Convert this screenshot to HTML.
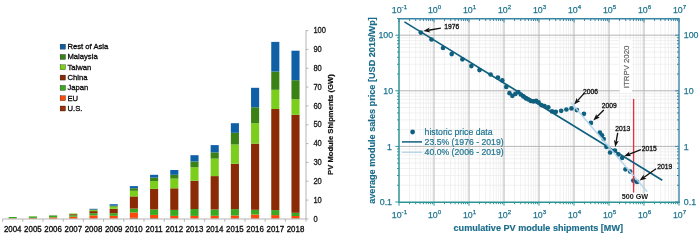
<!DOCTYPE html><html><head><meta charset="utf-8"><title>PV charts</title>
<style>html,body{margin:0;padding:0;background:#fff}svg{display:block}text{font-family:"Liberation Sans",Arial,sans-serif}</style></head><body>
<svg width="700" height="240" viewBox="0 0 700 240">
<rect width="700" height="240" fill="#fff"/>
<g shape-rendering="auto">
<rect x="8.65" y="218.30" width="8.1" height="0.40" fill="#fb4a0c"/>
<rect x="8.65" y="217.00" width="8.1" height="1.30" fill="#3aa81f"/>
<rect x="28.85" y="217.90" width="8.1" height="0.80" fill="#fb4a0c"/>
<rect x="28.85" y="216.40" width="8.1" height="1.50" fill="#3aa81f"/>
<rect x="49.05" y="217.40" width="8.1" height="1.30" fill="#fb4a0c"/>
<rect x="49.05" y="215.90" width="8.1" height="1.50" fill="#3aa81f"/>
<rect x="49.05" y="215.40" width="8.1" height="0.50" fill="#3a8216"/>
<rect x="69.25" y="216.70" width="8.1" height="2.00" fill="#fb4a0c"/>
<rect x="69.25" y="215.20" width="8.1" height="1.50" fill="#3aa81f"/>
<rect x="69.25" y="214.20" width="8.1" height="1.00" fill="#8a2b05"/>
<rect x="69.25" y="213.50" width="8.1" height="0.70" fill="#7bce1b"/>
<rect x="89.45" y="218.30" width="8.1" height="0.40" fill="#9c2f08"/>
<rect x="89.45" y="215.40" width="8.1" height="2.90" fill="#fb4a0c"/>
<rect x="89.45" y="213.20" width="8.1" height="2.20" fill="#3aa81f"/>
<rect x="89.45" y="211.10" width="8.1" height="2.10" fill="#8a2b05"/>
<rect x="89.45" y="209.90" width="8.1" height="1.20" fill="#7bce1b"/>
<rect x="89.45" y="209.70" width="8.1" height="0.20" fill="#3a8216"/>
<rect x="89.45" y="208.80" width="8.1" height="0.90" fill="#1060a6"/>
<rect x="109.65" y="218.40" width="8.1" height="0.30" fill="#9c2f08"/>
<rect x="109.65" y="215.80" width="8.1" height="2.60" fill="#fb4a0c"/>
<rect x="109.65" y="213.20" width="8.1" height="2.60" fill="#3aa81f"/>
<rect x="109.65" y="208.80" width="8.1" height="4.40" fill="#8a2b05"/>
<rect x="109.65" y="206.60" width="8.1" height="2.20" fill="#7bce1b"/>
<rect x="109.65" y="205.70" width="8.1" height="0.90" fill="#3a8216"/>
<rect x="109.65" y="204.20" width="8.1" height="1.50" fill="#1060a6"/>
<rect x="129.85" y="217.80" width="8.1" height="0.90" fill="#9c2f08"/>
<rect x="129.85" y="212.50" width="8.1" height="5.30" fill="#fb4a0c"/>
<rect x="129.85" y="208.60" width="8.1" height="3.90" fill="#3aa81f"/>
<rect x="129.85" y="196.40" width="8.1" height="12.20" fill="#8a2b05"/>
<rect x="129.85" y="190.80" width="8.1" height="5.60" fill="#7bce1b"/>
<rect x="129.85" y="188.30" width="8.1" height="2.50" fill="#3a8216"/>
<rect x="129.85" y="186.10" width="8.1" height="2.20" fill="#1060a6"/>
<rect x="150.05" y="218.00" width="8.1" height="0.70" fill="#9c2f08"/>
<rect x="150.05" y="214.90" width="8.1" height="3.10" fill="#fb4a0c"/>
<rect x="150.05" y="209.40" width="8.1" height="5.50" fill="#3aa81f"/>
<rect x="150.05" y="188.90" width="8.1" height="20.50" fill="#8a2b05"/>
<rect x="150.05" y="181.10" width="8.1" height="7.80" fill="#7bce1b"/>
<rect x="150.05" y="177.60" width="8.1" height="3.50" fill="#3a8216"/>
<rect x="150.05" y="174.80" width="8.1" height="2.80" fill="#1060a6"/>
<rect x="170.25" y="218.30" width="8.1" height="0.40" fill="#9c2f08"/>
<rect x="170.25" y="215.90" width="8.1" height="2.40" fill="#fb4a0c"/>
<rect x="170.25" y="209.90" width="8.1" height="6.00" fill="#3aa81f"/>
<rect x="170.25" y="188.30" width="8.1" height="21.60" fill="#8a2b05"/>
<rect x="170.25" y="178.60" width="8.1" height="9.70" fill="#7bce1b"/>
<rect x="170.25" y="174.80" width="8.1" height="3.80" fill="#3a8216"/>
<rect x="170.25" y="170.00" width="8.1" height="4.80" fill="#1060a6"/>
<rect x="190.45" y="218.30" width="8.1" height="0.40" fill="#9c2f08"/>
<rect x="190.45" y="215.90" width="8.1" height="2.40" fill="#fb4a0c"/>
<rect x="190.45" y="209.00" width="8.1" height="6.90" fill="#3aa81f"/>
<rect x="190.45" y="180.80" width="8.1" height="28.20" fill="#8a2b05"/>
<rect x="190.45" y="167.30" width="8.1" height="13.50" fill="#7bce1b"/>
<rect x="190.45" y="161.50" width="8.1" height="5.80" fill="#3a8216"/>
<rect x="190.45" y="155.20" width="8.1" height="6.30" fill="#1060a6"/>
<rect x="210.65" y="218.30" width="8.1" height="0.40" fill="#9c2f08"/>
<rect x="210.65" y="215.80" width="8.1" height="2.50" fill="#fb4a0c"/>
<rect x="210.65" y="209.50" width="8.1" height="6.30" fill="#3aa81f"/>
<rect x="210.65" y="176.10" width="8.1" height="33.40" fill="#8a2b05"/>
<rect x="210.65" y="158.60" width="8.1" height="17.50" fill="#7bce1b"/>
<rect x="210.65" y="152.40" width="8.1" height="6.20" fill="#3a8216"/>
<rect x="210.65" y="145.10" width="8.1" height="7.30" fill="#1060a6"/>
<rect x="230.85" y="218.20" width="8.1" height="0.50" fill="#9c2f08"/>
<rect x="230.85" y="215.50" width="8.1" height="2.70" fill="#fb4a0c"/>
<rect x="230.85" y="209.10" width="8.1" height="6.40" fill="#3aa81f"/>
<rect x="230.85" y="163.80" width="8.1" height="45.30" fill="#8a2b05"/>
<rect x="230.85" y="144.50" width="8.1" height="19.30" fill="#7bce1b"/>
<rect x="230.85" y="132.80" width="8.1" height="11.70" fill="#3a8216"/>
<rect x="230.85" y="123.20" width="8.1" height="9.60" fill="#1060a6"/>
<rect x="251.05" y="218.20" width="8.1" height="0.50" fill="#9c2f08"/>
<rect x="251.05" y="214.50" width="8.1" height="3.70" fill="#fb4a0c"/>
<rect x="251.05" y="209.80" width="8.1" height="4.70" fill="#3aa81f"/>
<rect x="251.05" y="143.60" width="8.1" height="66.20" fill="#8a2b05"/>
<rect x="251.05" y="123.20" width="8.1" height="20.40" fill="#7bce1b"/>
<rect x="251.05" y="107.30" width="8.1" height="15.90" fill="#3a8216"/>
<rect x="251.05" y="87.80" width="8.1" height="19.50" fill="#1060a6"/>
<rect x="271.25" y="218.30" width="8.1" height="0.40" fill="#9c2f08"/>
<rect x="271.25" y="215.10" width="8.1" height="3.20" fill="#fb4a0c"/>
<rect x="271.25" y="210.10" width="8.1" height="5.00" fill="#3aa81f"/>
<rect x="271.25" y="109.00" width="8.1" height="101.10" fill="#8a2b05"/>
<rect x="271.25" y="89.80" width="8.1" height="19.20" fill="#7bce1b"/>
<rect x="271.25" y="71.60" width="8.1" height="18.20" fill="#3a8216"/>
<rect x="271.25" y="41.90" width="8.1" height="29.70" fill="#1060a6"/>
<rect x="291.45" y="218.30" width="8.1" height="0.40" fill="#9c2f08"/>
<rect x="291.45" y="216.00" width="8.1" height="2.30" fill="#fb4a0c"/>
<rect x="291.45" y="212.80" width="8.1" height="3.20" fill="#3aa81f"/>
<rect x="291.45" y="114.80" width="8.1" height="98.00" fill="#8a2b05"/>
<rect x="291.45" y="99.20" width="8.1" height="15.60" fill="#7bce1b"/>
<rect x="291.45" y="80.20" width="8.1" height="19.00" fill="#3a8216"/>
<rect x="291.45" y="50.70" width="8.1" height="29.50" fill="#1060a6"/>
</g>
<g stroke="#adadad" stroke-width="0.9" fill="none">
<path d="M2.5 219H306"/>
<path d="M306 30.4V221.6"/>
<path d="M2.6 219V221.8"/>
<path d="M22.8 219V221.8"/>
<path d="M43.0 219V221.8"/>
<path d="M63.2 219V221.8"/>
<path d="M83.4 219V221.8"/>
<path d="M103.6 219V221.8"/>
<path d="M123.8 219V221.8"/>
<path d="M144.0 219V221.8"/>
<path d="M164.2 219V221.8"/>
<path d="M184.4 219V221.8"/>
<path d="M204.6 219V221.8"/>
<path d="M224.8 219V221.8"/>
<path d="M245.0 219V221.8"/>
<path d="M265.2 219V221.8"/>
<path d="M285.4 219V221.8"/>
<path d="M306 218.90H308.4"/>
<path d="M306 200.07H308.4"/>
<path d="M306 181.24H308.4"/>
<path d="M306 162.41H308.4"/>
<path d="M306 143.58H308.4"/>
<path d="M306 124.75H308.4"/>
<path d="M306 105.92H308.4"/>
<path d="M306 87.09H308.4"/>
<path d="M306 68.26H308.4"/>
<path d="M306 49.43H308.4"/>
<path d="M306 30.60H308.4"/>
</g>
<g font-size="8.2" fill="#141414" stroke="#141414" stroke-width="0.28" text-anchor="start">
<text transform="translate(313.4 221.60) scale(0.92 1.08)">0</text>
<text transform="translate(313.4 202.77) scale(0.92 1.08)">10</text>
<text transform="translate(313.4 183.94) scale(0.92 1.08)">20</text>
<text transform="translate(313.4 165.11) scale(0.92 1.08)">30</text>
<text transform="translate(313.4 146.28) scale(0.92 1.08)">40</text>
<text transform="translate(313.4 127.45) scale(0.92 1.08)">50</text>
<text transform="translate(313.4 108.62) scale(0.92 1.08)">60</text>
<text transform="translate(313.4 89.79) scale(0.92 1.08)">70</text>
<text transform="translate(313.4 70.96) scale(0.92 1.08)">80</text>
<text transform="translate(313.4 52.13) scale(0.92 1.08)">90</text>
<text transform="translate(313.4 33.30) scale(0.92 1.08)">100</text>
</g>
<g font-size="7.9" fill="#0c0c0c" stroke="#0c0c0c" stroke-width="0.3" text-anchor="middle">
<text transform="translate(12.70 232.25) scale(1 1.1)">2004</text>
<text transform="translate(32.90 232.25) scale(1 1.1)">2005</text>
<text transform="translate(53.10 232.25) scale(1 1.1)">2006</text>
<text transform="translate(73.30 232.25) scale(1 1.1)">2007</text>
<text transform="translate(93.50 232.25) scale(1 1.1)">2008</text>
<text transform="translate(113.70 232.25) scale(1 1.1)">2009</text>
<text transform="translate(133.90 232.25) scale(1 1.1)">2010</text>
<text transform="translate(154.10 232.25) scale(1 1.1)">2011</text>
<text transform="translate(174.30 232.25) scale(1 1.1)">2012</text>
<text transform="translate(194.50 232.25) scale(1 1.1)">2013</text>
<text transform="translate(214.70 232.25) scale(1 1.1)">2014</text>
<text transform="translate(234.90 232.25) scale(1 1.1)">2015</text>
<text transform="translate(255.10 232.25) scale(1 1.1)">2016</text>
<text transform="translate(275.30 232.25) scale(1 1.1)">2017</text>
<text transform="translate(295.50 232.25) scale(1 1.1)">2018</text>
</g>
<text transform="translate(333.4 124.6) rotate(-90)" font-size="7.65" font-weight="bold" fill="#111" stroke="#111" stroke-width="0.2" text-anchor="middle">PV Module Shipments (GW)</text>
<g font-size="7.65" fill="#0c0c0c" stroke="#0c0c0c" stroke-width="0.3">
<rect x="60.1" y="44.15" width="5.4" height="5" fill="#1060a6"/>
<text transform="translate(67.5 48.95) scale(1 1.05)">Rest of Asia</text>
<rect x="60.1" y="54.46" width="5.4" height="5" fill="#3a8216"/>
<text transform="translate(67.5 59.26) scale(1 1.05)">Malaysia</text>
<rect x="60.1" y="64.77" width="5.4" height="5" fill="#7bce1b"/>
<text transform="translate(67.5 69.57) scale(1 1.05)">Taiwan</text>
<rect x="60.1" y="75.08" width="5.4" height="5" fill="#8a2b05"/>
<text transform="translate(67.5 79.88) scale(1 1.05)">China</text>
<rect x="60.1" y="85.39" width="5.4" height="5" fill="#3aa81f"/>
<text transform="translate(67.5 90.19) scale(1 1.05)">Japan</text>
<rect x="60.1" y="95.70" width="5.4" height="5" fill="#fb4a0c"/>
<text transform="translate(67.5 100.50) scale(1 1.05)">EU</text>
<rect x="60.1" y="106.01" width="5.4" height="5" fill="#9c2f08"/>
<text transform="translate(67.5 110.81) scale(1 1.05)">U.S.</text>
</g>
<g fill="none">
<path d="M409.54 18.8V202.3M415.70 18.8V202.3M420.07 18.8V202.3M423.46 18.8V202.3M426.24 18.8V202.3M428.58 18.8V202.3M430.61 18.8V202.3M432.40 18.8V202.3M444.54 18.8V202.3M450.70 18.8V202.3M455.07 18.8V202.3M458.46 18.8V202.3M461.24 18.8V202.3M463.58 18.8V202.3M465.61 18.8V202.3M467.40 18.8V202.3M479.54 18.8V202.3M485.70 18.8V202.3M490.07 18.8V202.3M493.46 18.8V202.3M496.24 18.8V202.3M498.58 18.8V202.3M500.61 18.8V202.3M502.40 18.8V202.3M514.54 18.8V202.3M520.70 18.8V202.3M525.07 18.8V202.3M528.46 18.8V202.3M531.24 18.8V202.3M533.58 18.8V202.3M535.61 18.8V202.3M537.40 18.8V202.3M549.54 18.8V202.3M555.70 18.8V202.3M560.07 18.8V202.3M563.46 18.8V202.3M566.24 18.8V202.3M568.58 18.8V202.3M570.61 18.8V202.3M572.40 18.8V202.3M584.54 18.8V202.3M590.70 18.8V202.3M595.07 18.8V202.3M598.46 18.8V202.3M601.24 18.8V202.3M603.58 18.8V202.3M605.61 18.8V202.3M607.40 18.8V202.3M619.54 18.8V202.3M625.70 18.8V202.3M630.07 18.8V202.3M633.46 18.8V202.3M636.24 18.8V202.3M638.58 18.8V202.3M640.61 18.8V202.3M642.40 18.8V202.3M654.54 18.8V202.3M660.70 18.8V202.3M665.07 18.8V202.3M668.46 18.8V202.3M671.24 18.8V202.3M673.58 18.8V202.3M675.61 18.8V202.3M677.40 18.8V202.3M399.0 185.26H679.0M399.0 175.47H679.0M399.0 168.53H679.0M399.0 163.14H679.0M399.0 158.73H679.0M399.0 155.01H679.0M399.0 151.79H679.0M399.0 148.94H679.0M399.0 129.66H679.0M399.0 119.87H679.0M399.0 112.93H679.0M399.0 107.54H679.0M399.0 103.13H679.0M399.0 99.41H679.0M399.0 96.19H679.0M399.0 93.34H679.0M399.0 74.06H679.0M399.0 64.27H679.0M399.0 57.33H679.0M399.0 51.94H679.0M399.0 47.53H679.0M399.0 43.81H679.0M399.0 40.59H679.0M399.0 37.74H679.0M399.0 18.46H679.0" stroke="#e7e7e7" stroke-width="0.6"/>
<path d="M434.00 18.8V202.3M469.00 18.8V202.3M504.00 18.8V202.3M539.00 18.8V202.3M574.00 18.8V202.3M609.00 18.8V202.3M644.00 18.8V202.3M399.0 146.40H679.0M399.0 90.80H679.0M399.0 35.20H679.0" stroke="#b6b6b6" stroke-width="1"/>
</g>
<rect x="619.6" y="40" width="12.5" height="52.6" fill="#fff"/>
<text transform="translate(628.7 66.9) rotate(-90)" font-size="7.8" fill="#606060" stroke="#606060" stroke-width="0.2" text-anchor="middle">ITRPV 2020</text>
<path d="M633.6 98.9V192.5" stroke="#e82c44" stroke-width="1.35" fill="none"/>
<path d="M404.4 21.9L662.3 180.25" stroke="#0f5f7e" stroke-width="1.6" fill="none"/>
<g fill="#0f5f7e">
<circle cx="420.8" cy="32.6" r="2.35"/>
<circle cx="431.5" cy="39.5" r="2.35"/>
<circle cx="443" cy="48" r="2.35"/>
<circle cx="451.7" cy="54.1" r="2.35"/>
<circle cx="462.4" cy="59.3" r="2.35"/>
<circle cx="471.4" cy="66.1" r="2.35"/>
<circle cx="479.5" cy="70.1" r="2.35"/>
<circle cx="490.6" cy="74.5" r="2.35"/>
<circle cx="497.9" cy="77.6" r="2.35"/>
<circle cx="502.3" cy="80.4" r="2.35"/>
<circle cx="506.3" cy="86.9" r="2.35"/>
<circle cx="509.5" cy="93.2" r="2.35"/>
<circle cx="512.4" cy="95.8" r="2.35"/>
<circle cx="515.4" cy="93.9" r="2.35"/>
<circle cx="518.3" cy="92" r="2.35"/>
<circle cx="520.8" cy="94.5" r="2.35"/>
<circle cx="523.3" cy="96.4" r="2.35"/>
<circle cx="525.8" cy="98.3" r="2.35"/>
<circle cx="528.3" cy="99.5" r="2.35"/>
<circle cx="530.8" cy="100.9" r="2.35"/>
<circle cx="533.5" cy="101.4" r="2.35"/>
<circle cx="536.1" cy="100.8" r="2.35"/>
<circle cx="538.6" cy="102.3" r="2.35"/>
<circle cx="541.4" cy="105.1" r="2.35"/>
<circle cx="544.5" cy="106.1" r="2.35"/>
<circle cx="548.3" cy="107.4" r="2.35"/>
<circle cx="552" cy="111.4" r="2.35"/>
<circle cx="555.8" cy="111.8" r="2.35"/>
<circle cx="561.2" cy="110.8" r="2.35"/>
<circle cx="566.4" cy="109.5" r="2.35"/>
<circle cx="571.5" cy="108.4" r="2.35"/>
<circle cx="576.9" cy="110.1" r="2.35"/>
<circle cx="583.9" cy="113.8" r="2.35"/>
<circle cx="590.9" cy="122.9" r="2.35"/>
<circle cx="599.9" cy="132.6" r="2.35"/>
<circle cx="602" cy="135.3" r="2.35"/>
<circle cx="603.7" cy="139.1" r="2.35"/>
<circle cx="606.4" cy="146.8" r="2.35"/>
<circle cx="610.1" cy="152.5" r="2.35"/>
<circle cx="614.9" cy="150.6" r="2.35"/>
<circle cx="618.3" cy="154.4" r="2.35"/>
<circle cx="622.1" cy="158" r="2.35"/>
<circle cx="625.5" cy="169.3" r="2.35"/>
<circle cx="630.2" cy="171.6" r="2.35"/>
<circle cx="633.3" cy="180.6" r="2.35"/>
<circle cx="637.1" cy="181.9" r="2.35"/>
</g>
<path d="M570.9 102.4L647.2 191.73" stroke="#b2d6ec" stroke-width="1.6" fill="none" opacity="0.92"/>
<path d="M633.6 176V186" stroke="#e82c44" stroke-width="1.35" fill="none"/>
<path d="M399.0 18.1V202.3H679.7" fill="none" stroke="#2c9496" stroke-width="1.5"/>
<path d="M398.25 18.8H679.0V203.05" fill="none" stroke="#3a86a6" stroke-width="1.4"/>
<path d="M399.00 18.8v3.6M409.54 18.8v2.2M415.70 18.8v2.2M420.07 18.8v2.2M423.46 18.8v2.2M426.24 18.8v2.2M428.58 18.8v2.2M430.61 18.8v2.2M432.40 18.8v2.2M434.00 18.8v3.6M444.54 18.8v2.2M450.70 18.8v2.2M455.07 18.8v2.2M458.46 18.8v2.2M461.24 18.8v2.2M463.58 18.8v2.2M465.61 18.8v2.2M467.40 18.8v2.2M469.00 18.8v3.6M479.54 18.8v2.2M485.70 18.8v2.2M490.07 18.8v2.2M493.46 18.8v2.2M496.24 18.8v2.2M498.58 18.8v2.2M500.61 18.8v2.2M502.40 18.8v2.2M504.00 18.8v3.6M514.54 18.8v2.2M520.70 18.8v2.2M525.07 18.8v2.2M528.46 18.8v2.2M531.24 18.8v2.2M533.58 18.8v2.2M535.61 18.8v2.2M537.40 18.8v2.2M539.00 18.8v3.6M549.54 18.8v2.2M555.70 18.8v2.2M560.07 18.8v2.2M563.46 18.8v2.2M566.24 18.8v2.2M568.58 18.8v2.2M570.61 18.8v2.2M572.40 18.8v2.2M574.00 18.8v3.6M584.54 18.8v2.2M590.70 18.8v2.2M595.07 18.8v2.2M598.46 18.8v2.2M601.24 18.8v2.2M603.58 18.8v2.2M605.61 18.8v2.2M607.40 18.8v2.2M609.00 18.8v3.6M619.54 18.8v2.2M625.70 18.8v2.2M630.07 18.8v2.2M633.46 18.8v2.2M636.24 18.8v2.2M638.58 18.8v2.2M640.61 18.8v2.2M642.40 18.8v2.2M644.00 18.8v3.6M654.54 18.8v2.2M660.70 18.8v2.2M665.07 18.8v2.2M668.46 18.8v2.2M671.24 18.8v2.2M673.58 18.8v2.2M675.61 18.8v2.2M677.40 18.8v2.2M679.00 18.8v3.6M679.0 202.00h-3.8M679.0 185.26h-2.0M679.0 175.47h-2.0M679.0 168.53h-2.0M679.0 163.14h-2.0M679.0 158.73h-2.0M679.0 155.01h-2.0M679.0 151.79h-2.0M679.0 148.94h-2.0M679.0 146.40h-3.8M679.0 129.66h-2.0M679.0 119.87h-2.0M679.0 112.93h-2.0M679.0 107.54h-2.0M679.0 103.13h-2.0M679.0 99.41h-2.0M679.0 96.19h-2.0M679.0 93.34h-2.0M679.0 90.80h-3.8M679.0 74.06h-2.0M679.0 64.27h-2.0M679.0 57.33h-2.0M679.0 51.94h-2.0M679.0 47.53h-2.0M679.0 43.81h-2.0M679.0 40.59h-2.0M679.0 37.74h-2.0M679.0 35.20h-3.8M679.0 18.46h-2.0" stroke="#3a86a6" stroke-width="1" fill="none"/>
<path d="M399.00 202.3v3.4M409.54 202.3v1.9M415.70 202.3v1.9M420.07 202.3v1.9M423.46 202.3v1.9M426.24 202.3v1.9M428.58 202.3v1.9M430.61 202.3v1.9M432.40 202.3v1.9M434.00 202.3v3.4M444.54 202.3v1.9M450.70 202.3v1.9M455.07 202.3v1.9M458.46 202.3v1.9M461.24 202.3v1.9M463.58 202.3v1.9M465.61 202.3v1.9M467.40 202.3v1.9M469.00 202.3v3.4M479.54 202.3v1.9M485.70 202.3v1.9M490.07 202.3v1.9M493.46 202.3v1.9M496.24 202.3v1.9M498.58 202.3v1.9M500.61 202.3v1.9M502.40 202.3v1.9M504.00 202.3v3.4M514.54 202.3v1.9M520.70 202.3v1.9M525.07 202.3v1.9M528.46 202.3v1.9M531.24 202.3v1.9M533.58 202.3v1.9M535.61 202.3v1.9M537.40 202.3v1.9M539.00 202.3v3.4M549.54 202.3v1.9M555.70 202.3v1.9M560.07 202.3v1.9M563.46 202.3v1.9M566.24 202.3v1.9M568.58 202.3v1.9M570.61 202.3v1.9M572.40 202.3v1.9M574.00 202.3v3.4M584.54 202.3v1.9M590.70 202.3v1.9M595.07 202.3v1.9M598.46 202.3v1.9M601.24 202.3v1.9M603.58 202.3v1.9M605.61 202.3v1.9M607.40 202.3v1.9M609.00 202.3v3.4M619.54 202.3v1.9M625.70 202.3v1.9M630.07 202.3v1.9M633.46 202.3v1.9M636.24 202.3v1.9M638.58 202.3v1.9M640.61 202.3v1.9M642.40 202.3v1.9M644.00 202.3v3.4M654.54 202.3v1.9M660.70 202.3v1.9M665.07 202.3v1.9M668.46 202.3v1.9M671.24 202.3v1.9M673.58 202.3v1.9M675.61 202.3v1.9M677.40 202.3v1.9M679.00 202.3v3.4M399.0 202.00h-3.6M399.0 185.26h-1.9M399.0 175.47h-1.9M399.0 168.53h-1.9M399.0 163.14h-1.9M399.0 158.73h-1.9M399.0 155.01h-1.9M399.0 151.79h-1.9M399.0 148.94h-1.9M399.0 146.40h-3.6M399.0 129.66h-1.9M399.0 119.87h-1.9M399.0 112.93h-1.9M399.0 107.54h-1.9M399.0 103.13h-1.9M399.0 99.41h-1.9M399.0 96.19h-1.9M399.0 93.34h-1.9M399.0 90.80h-3.6M399.0 74.06h-1.9M399.0 64.27h-1.9M399.0 57.33h-1.9M399.0 51.94h-1.9M399.0 47.53h-1.9M399.0 43.81h-1.9M399.0 40.59h-1.9M399.0 37.74h-1.9M399.0 35.20h-3.6M399.0 18.46h-1.9" stroke="#2c9496" stroke-width="1" fill="none"/>
<g font-size="8.8" fill="#1f7591" stroke="#1f7591" stroke-width="0.25">
<text x="391.80" y="12.6">10<tspan font-size="6.2" dy="-3.8">-1</tspan></text>
<text x="391.80" y="217.6">10<tspan font-size="6.2" dy="-3.8">-1</tspan></text>
<text x="427.90" y="12.6">10<tspan font-size="6.2" dy="-3.8">0</tspan></text>
<text x="427.90" y="217.6">10<tspan font-size="6.2" dy="-3.8">0</tspan></text>
<text x="462.90" y="12.6">10<tspan font-size="6.2" dy="-3.8">1</tspan></text>
<text x="462.90" y="217.6">10<tspan font-size="6.2" dy="-3.8">1</tspan></text>
<text x="497.90" y="12.6">10<tspan font-size="6.2" dy="-3.8">2</tspan></text>
<text x="497.90" y="217.6">10<tspan font-size="6.2" dy="-3.8">2</tspan></text>
<text x="532.90" y="12.6">10<tspan font-size="6.2" dy="-3.8">3</tspan></text>
<text x="532.90" y="217.6">10<tspan font-size="6.2" dy="-3.8">3</tspan></text>
<text x="567.90" y="12.6">10<tspan font-size="6.2" dy="-3.8">4</tspan></text>
<text x="567.90" y="217.6">10<tspan font-size="6.2" dy="-3.8">4</tspan></text>
<text x="602.90" y="12.6">10<tspan font-size="6.2" dy="-3.8">5</tspan></text>
<text x="602.90" y="217.6">10<tspan font-size="6.2" dy="-3.8">5</tspan></text>
<text x="637.90" y="12.6">10<tspan font-size="6.2" dy="-3.8">6</tspan></text>
<text x="637.90" y="217.6">10<tspan font-size="6.2" dy="-3.8">6</tspan></text>
<text x="672.90" y="12.6">10<tspan font-size="6.2" dy="-3.8">7</tspan></text>
<text x="672.90" y="217.6">10<tspan font-size="6.2" dy="-3.8">7</tspan></text>
<text x="393.1" y="38.30" text-anchor="end">100</text>
<text x="683.8" y="38.30">100</text>
<text x="393.1" y="93.90" text-anchor="end">10</text>
<text x="683.8" y="93.90">10</text>
<text x="392.0" y="149.50" text-anchor="end">1</text>
<text x="683.8" y="149.50">1</text>
<text x="392.0" y="205.10" text-anchor="end">0.1</text>
<text x="683.8" y="205.10">0.1</text>
</g>
<text transform="translate(375 110.5) rotate(-90)" font-size="9.15" font-weight="bold" fill="#1a6c8a" stroke="#1a6c8a" stroke-width="0.15" text-anchor="middle">average module sales price [USD 2019/Wp]</text>
<text x="538.3" y="231.2" font-size="9.08" font-weight="bold" fill="#1a6c8a" stroke="#1a6c8a" stroke-width="0.15" text-anchor="middle">cumulative PV module shipments [MW]</text>
<circle cx="412.6" cy="132" r="2.4" fill="#0f5f7e"/>
<path d="M402 141.9H422" stroke="#0f5f7e" stroke-width="1.5"/>
<path d="M402 152.2H422" stroke="#a4cde6" stroke-width="1.1"/>
<g font-size="8.68" fill="#1f7591" stroke="#1f7591" stroke-width="0.2">
<text x="424.6" y="135">historic price data</text>
<text x="424.6" y="145.1">23.5% (1976 - 2019)</text>
<text x="424.6" y="155.3">40.0% (2006 - 2019)</text>
</g>
<g font-size="6.75" fill="#111" stroke="#111" stroke-width="0.3">
<text x="444.2" y="29.2">1976</text>
<path d="M440.90 28.20L428.43 30.25" stroke="#111" stroke-width="1.35" fill="none"/><path d="M423.30 31.10L429.60 27.53L428.43 30.25L430.42 32.46Z" fill="#111" stroke="none"/>
<text x="583.0" y="93.7">2006</text>
<path d="M584.10 93.40L577.58 100.64" stroke="#111" stroke-width="1.35" fill="none"/><path d="M574.10 104.50L576.79 97.77L577.58 100.64L580.51 101.12Z" fill="#111" stroke="none"/>
<text x="601.8" y="108">2009</text>
<path d="M603.80 110.10L596.99 116.84" stroke="#111" stroke-width="1.35" fill="none"/><path d="M593.30 120.50L596.37 113.94L596.99 116.84L599.89 117.49Z" fill="#111" stroke="none"/>
<text x="615.2" y="131.4">2013</text>
<path d="M617.70 132.80L616.10 141.88" stroke="#111" stroke-width="1.35" fill="none"/><path d="M615.20 147.00L613.92 139.87L616.10 141.88L618.84 140.74Z" fill="#111" stroke="none"/>
<text x="641.8" y="151">2015</text>
<path d="M640.90 149.60L628.84 154.31" stroke="#111" stroke-width="1.35" fill="none"/><path d="M624.00 156.20L629.42 151.40L628.84 154.31L631.24 156.06Z" fill="#111" stroke="none"/>
<text x="657.2" y="169.4">2019</text>
<path d="M656.00 168.70L643.81 177.55" stroke="#111" stroke-width="1.35" fill="none"/><path d="M639.60 180.60L643.64 174.58L643.81 177.55L646.57 178.63Z" fill="#111" stroke="none"/>
</g>
<rect x="621" y="193.6" width="28" height="6.6" fill="#fff" opacity="0.85"/>
<text x="634.9" y="199.3" font-size="7.2" font-weight="bold" fill="#111" text-anchor="middle">500 GW</text>
</svg></body></html>
